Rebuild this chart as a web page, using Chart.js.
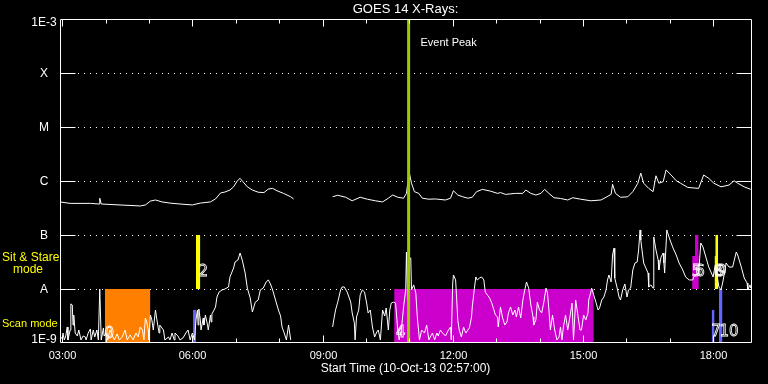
<!DOCTYPE html>
<html><head><meta charset="utf-8">
<script src="https://cdn.jsdelivr.net/npm/chart.js@4.4.1/dist/chart.umd.min.js"></script>
<style>html,body{margin:0;padding:0;background:#000;overflow:hidden}</style>
</head><body><canvas id="c" width="768" height="384"></canvas>
<script>
// Time axis: minutes elapsed since start time 02:57 (10-Oct-13)
const START_MINUTE = 177;          // 02:57 in minutes of day
const END_ELAPSED = 955.4;         // ~18:52
const xTickHours = [3,4,5,6,7,8,9,10,11,12,13,14,15,16,17,18];
const xLabelEvery = 3;

// Y axis: GOES flux classes (W/m^2)
const yTickValues = [1e-9, 1e-8, 1e-7, 1e-6, 1e-5, 1e-4, 1e-3];
const yTickLabels = ['1E-9', 'A', 'B', 'C', 'M', 'X', '1E-3'];

// Long channel (1-8 A): [elapsed minutes, flux]
const longSeg1 = [[0,4.1e-7],[14,3.85e-7],[42,3.85e-7],[54,3.75e-7],[55,4.8e-7],[57,3.75e-7],[83,3.6e-7],[111,3.45e-7],[118,3.6e-7],[125,4.25e-7],
[132,4.45e-7],[141,4.1e-7],[152,3.9e-7],[166,3.75e-7],[183,3.6e-7],[194,3.9e-7],[208,4.1e-7],[215,4.65e-7],[222,6.0e-7],[228,6.25e-7],
[235,6.8e-7],[240,7.8e-7],[245,1.0e-6],[249,1.12e-6],[253,9.7e-7],[259,7.8e-7],[266,6.8e-7],[274,6.2e-7],[282,6.1e-7],[288,7.1e-7],
[294,7.3e-7],[300,6.6e-7],[309,5.9e-7],[319,5.1e-7],[323,4.65e-7]];
const longSeg2 = [[377,5.1e-7],[384,5.45e-7],[395,5.0e-7],[404,4.3e-7],[415,5.0e-7],[425,4.6e-7],[436,4.3e-7],[446,4.1e-7],[454,4.8e-7],[460,5.5e-7],
[467,5.0e-7],[475,4.8e-7],[479,5.9e-7],[480.5,8.4e-7],[483,1.41e-6],[486,9.1e-7],[490,6.35e-7],[496,5.9e-7],[501,4.8e-7],[510,4.6e-7],
[519,4.65e-7],[533,4.45e-7],[540,4.8e-7],[544,6.6e-7],[550,5.5e-7],[557,5.1e-7],[564,4.8e-7],[570,5.0e-7],[576,6.35e-7],[584,7.0e-7],
[595,6.5e-7],[605,5.9e-7],[609,6.1e-7],[616,5.65e-7],[630,5.9e-7],[640,5.9e-7],[644,6.8e-7],[651,5.9e-7],[658,5.5e-7],[665,5.9e-7],
[670,7.0e-7],[676,5.9e-7],[683,4.9e-7],[692,4.75e-7],[702,4.45e-7],[709,4.9e-7],[720,4.6e-7],[734,4.3e-7],[748,4.45e-7],[755,5.0e-7],
[762,5.65e-7],[764,8.7e-7],[768,5.9e-7],[775,5.0e-7],[785,5.1e-7],[792,6.35e-7],[799,9.1e-7],[803,1.4e-6],[807,9.1e-7],[814,7.3e-7],
[820,6.35e-7],[824,1.25e-6],[828,9.1e-7],[834,9.7e-7],[838,1.6e-6],[845,1.29e-6],[852,1.01e-6],[858,9.1e-7],[868,7.6e-7],[883,7.3e-7],
[890,1.29e-6],[897,1.12e-6],[904,9.1e-7],[914,7.8e-7],[925,8.4e-7],[932,1.01e-6],[937,9.1e-7],[946,7.8e-7],[955,7.0e-7]];

// Short channel (0.5-4 A): [elapsed minutes, flux]
const shortSeg1 = [[0,1.14e-9],[3,1.29e-9],[4,1.53e-9],[6,1.14e-9],[8,1.35e-9],[10,1.98e-9],[11,1.14e-9],[14,1.74e-9],[15,5.3e-9],[17,5.06e-9],
[18,2.15e-9],[19,3.3e-9],[21,1.53e-9],[24,1.35e-9],[26,1.74e-9],[29,1.14e-9],[32,1.35e-9],[35,1.29e-9],[36,1.14e-9],[39,1.53e-9],
[42,1.82e-9],[43,1.14e-9],[46,1.74e-9],[48,1.29e-9],[51,1.74e-9],[53,1.14e-9],[55,1.0e-8],[57,1.14e-9],[60,1.9e-9],[61,1.35e-9],
[64,1.53e-9],[66,1.14e-9],[69,1.74e-9],[72,1.41e-9],[75,1.14e-9],[79,1.47e-9],[82,1.14e-9],[86,1.29e-9],[90,1.74e-9],[93,1.14e-9],
[97,1.41e-9],[101,1.14e-9],[105,1.53e-9],[108,1.29e-9],[111,1.98e-9],[114,1.74e-9],[116,1.14e-9],[118,2.9e-9],[120,2.45e-9],[122,1.74e-9],
[123,1.14e-9],[125,3.3e-9],[127,2.67e-9],[129,1.74e-9],[132,4.08e-9],[134,2.67e-9],[137,1.53e-9],[138,2.15e-9],[143,1.74e-9],[145,1.14e-9],
[150,1.29e-9],[152,1.14e-9],[155,1.53e-9],[158,1.14e-9],[159,1.53e-9],[163,1.35e-9],[166,1.14e-9],[170,1.24e-9],[174,1.53e-9],[177,1.74e-9],
[180,1.14e-9],[183,1.53e-9],[186,1.14e-9],[188,2.67e-9],[190,4.08e-9],[191,2.15e-9],[192,4.26e-9],[194,2.67e-9],[195,1.74e-9],[198,2.9e-9],
[199,2.15e-9],[201,3.3e-9],[204,2.15e-9],[205,1.74e-9],[208,3.3e-9],[209,2.45e-9],[210,3.44e-9],[213,4.08e-9],[215,4.64e-9],[217,7.1e-9],
[220,8.8e-9],[224,9.6e-9],[228,1.0e-8],[233,1.09e-8],[235,1.67e-8],[240,2.45e-8],[242,3.16e-8],[246,3.44e-8],[249,4.64e-8],[252,3.44e-8],
[256,1.98e-8],[259,1.04e-8],[263,6.8e-9],[266,3.75e-9],[270,5.7e-9],[274,6.25e-9],[277,9.6e-9],[281,1.04e-8],[285,1.35e-8],[288,1.47e-8],
[291,1.24e-8],[294,9.6e-9],[298,6.25e-9],[302,4.08e-9],[305,3.16e-9],[307,1.98e-9],[310,1.53e-9],[313,1.14e-9],[316,2.15e-9],[317,1.74e-9],[319,1.14e-9]];
const shortSeg2 = [[377,1.98e-9],[378,2.45e-9],[381,4.08e-9],[384,5.7e-9],[388,9.6e-9],[390,1.09e-8],[393,1.09e-8],[397,8.8e-9],[402,5.7e-9],[404,3.6e-9],
[407,2.35e-9],[408,1.14e-9],[410,3.03e-9],[413,4.08e-9],[415,7.7e-9],[418,9.6e-9],[421,8.8e-9],[424,5.5e-9],[426,3.6e-9],[429,4.08e-9],
[432,1.98e-9],[435,1.29e-9],[438,1.6e-9],[440,1.74e-9],[443,1.14e-9],[446,4.08e-9],[449,3.16e-9],[451,4.45e-9],[454,1.74e-9],[456,4.08e-9],
[458,5.5e-9],[461,5.7e-9],[464,5.5e-9],[467,1.74e-9],[469,1.14e-9],[472,1.74e-9],[475,4.64e-9],[478,9.6e-9],[479,4.84e-8],[480.5,6.25e-9],
[482,3.75e-8],[485,3.75e-8],[486,9.6e-9],[489,1.19e-8],[492,8.4e-9],[494,3.03e-9],[497,1.14e-9],[500,1.74e-9],[504,1.53e-9],[507,2.15e-9],
[510,1.14e-9],[512,1.29e-9],[515,1.53e-9],[518,1.14e-9],[521,1.53e-9],[523,1.35e-9],[526,1.74e-9],[529,1.53e-9],[533,1.35e-9],[537,1.74e-9],
[540,1.98e-9],[541,1.14e-9],[543,1.29e-8],[544,1.82e-8],[547,1.47e-8],[548,8.4e-9],[550,2.67e-9],[552,1.74e-9],[555,1.29e-9],[558,1.98e-9],
[561,1.53e-9],[564,1.74e-9],[566,1.9e-9],[569,3.03e-9],[570,4.64e-9],[573,1.04e-8],[575,1.67e-8],[577,1.47e-8],[580,1.6e-8],[583,1.67e-8],
[586,1.47e-8],[588,8.8e-9],[591,7.7e-9],[594,6.8e-9],[597,5.5e-9],[600,4.08e-9],[602,3.3e-9],[605,3.03e-9],[606,1.98e-9],[609,4.64e-9],
[612,2.9e-9],[615,2.15e-9],[618,2.45e-9],[620,3.6e-9],[623,4.64e-9],[626,3.3e-9],[629,4.08e-9],[631,3.03e-9],[634,4.64e-9],[637,2.9e-9],
[640,6.25e-9],[642,8.8e-9],[645,1.35e-8],[648,1.04e-8],[651,5.06e-9],[654,3.03e-9],[655,2.15e-9],[658,2.67e-9],[660,5.7e-9],[663,4.08e-9],
[666,3.6e-9],[669,5.7e-9],[672,1.04e-8],[674,8.4e-9],[676,4.08e-9],[678,1.74e-9],[681,3.3e-9],[684,1.74e-9],[687,1.14e-9],[690,1.29e-9],
[692,1.98e-9],[694,1.14e-9],[696,1.98e-9],[699,3.3e-9],[702,1.74e-9],[705,3.03e-9],[708,5.5e-9],[710,1.14e-9],[713,6.25e-9],[716,3.3e-9],
[719,1.74e-9],[721,1.74e-9],[724,3.3e-9],[727,2.67e-9],[730,3.6e-9],[731,6.25e-9],[734,8.8e-9],[735,1.04e-8],[738,7.7e-9],[741,5.7e-9],
[744,4.08e-9],[746,4.45e-9],[749,6.25e-9],[752,7.1e-9],[755,9.6e-9],[757,1.47e-8],[759,1.82e-8],[762,1.35e-8],[764,4.26e-8],[766,5.7e-8],
[767,1.6e-8],[770,1.09e-8],[773,7.1e-9],[775,6.25e-9],[778,9.6e-9],[781,1.24e-8],[784,7.1e-9],[786,9.6e-9],[789,1.04e-8],[792,2.25e-8],
[795,3.03e-8],[798,3.16e-8],[800,5.3e-8],[802,1.24e-7],[803,8.1e-8],[807,3.03e-8],[813,1.98e-8],[814,1.09e-8],[817,1.19e-8],[820,1.04e-8],
[821,9.2e-8],[824,5.3e-8],[827,3.44e-8],[828,2.25e-8],[831,3.9e-8],[834,4.64e-8],[835,3.03e-8],[836,1.98e-8],[839,1.24e-7],[842,9.2e-8],
[847,6.0e-8],[852,4.26e-8],[856,3.03e-8],[861,2.25e-8],[865,1.67e-8],[870,1.47e-8],[875,1.47e-8],[876,1.67e-8],[883,1.98e-8],[886,7.1e-8],
[889,6.0e-8],[893,3.9e-8],[897,2.55e-8],[903,1.67e-8],[906,2.78e-8],[908,1.98e-8],[911,1.09e-8],[914,9.6e-9],[917,1.47e-8],[921,3.03e-8],
[925,2.55e-8],[930,2.55e-8],[935,4.84e-8],[937,4.26e-8],[942,2.55e-8],[946,1.6e-8],[950,1.29e-8],[951,9.6e-9],[954,1.19e-8],[955,1.04e-8]];
const gapAt = 350;

// Observation / event boxes
const boxStart = [62, 184, 188, 462, 874, 878, 901, 905, 906, 911];
const boxEnd   = [125, 188, 194, 738, 883, 883, 905, 907, 910, 916];
const boxTop   = [1e-8, 4.08e-9, 1e-7, 1e-8, 4.08e-8, 1e-7, 4.08e-9, 4.08e-8, 1e-7, 1e-8];
const boxBase  = [1e-9, 1e-9, 1e-8, 1e-9, 1e-8, 1e-8, 1e-9, 1e-8, 1e-8, 1e-9];
const boxKind  = ['orange','blue','yellow','magenta','magenta','magenta','blue','yellow','yellow','blue'];

// Event number labels
const labelText = ['0', '2', '4', '5', '6', '7', '8', '9', '10'];
const labelTime = [68, 198, 471, 880, 885, 907, 911, 915, 925];
const labelFlux = [1.47e-9, 2.07e-8, 1.53e-9, 2.07e-8, 2.07e-8, 1.6e-9, 2.07e-8, 2.07e-8, 1.6e-9];

const eventPeakTime = 482;
const eventPeakText = 'Event Peak';

const kindColor = {orange:'#ff8000', blue:'#6464ff', yellow:'#ffff00', magenta:'#cc00cc'};
const pts = arr => arr.map(p => ({x:p[0], y:p[1]}));
const FONT = '"Liberation Sans", "DejaVu Sans", sans-serif';

const datasets = [];
datasets.push({ data:[{x:eventPeakTime,y:1e-9},{x:eventPeakTime,y:1e-3}], borderColor:'#99cc00', borderWidth:3, pointRadius:0, fill:false, order:0 });
datasets.push({ data:[...pts(longSeg1), {x:gapAt,y:null}, ...pts(longSeg2)], borderColor:'#ffffff', borderWidth:1, pointRadius:0, fill:false, spanGaps:false, order:1 });
datasets.push({ data:[...pts(shortSeg1), {x:gapAt,y:null}, ...pts(shortSeg2)], borderColor:'#ffffff', borderWidth:1, pointRadius:0, fill:false, spanGaps:false, order:1 });
boxStart.forEach((s,i) => {
  datasets.push({ data:[{x:s,y:boxTop[i]},{x:boxEnd[i],y:boxTop[i]}], borderWidth:0, borderColor:'rgba(0,0,0,0)',
    backgroundColor:kindColor[boxKind[i]], pointRadius:0, fill:{value:boxBase[i]}, order:2 });
});

const decor = {
  id:'decor',
  beforeDraw(chart){ const c=chart.ctx; c.save(); c.fillStyle='#000'; c.fillRect(0,0,chart.width,chart.height); c.restore(); },
  beforeDatasetsDraw(chart){
    const c=chart.ctx, a=chart.chartArea, y=chart.scales.y;
    c.save(); c.strokeStyle='#fff'; c.lineWidth=1;
    yTickValues.forEach((v,i)=>{
      if(i===0 || i===yTickValues.length-1) return;
      const py=Math.round(y.getPixelForValue(v))+0.5;
      c.setLineDash([1,5]); c.beginPath(); c.moveTo(a.left+18,py); c.lineTo(a.right-15,py); c.stroke();
    });
    c.restore();
  },
  afterDraw(chart){
    const c=chart.ctx, a=chart.chartArea, x=chart.scales.x, y=chart.scales.y;
    c.save(); c.strokeStyle='#fff'; c.lineWidth=1; c.setLineDash([]);
    const L=Math.round(a.left)+0.5, R=Math.round(a.right)+0.5, T=Math.round(a.top)+0.5, B=Math.round(a.bottom)-0.5;
    c.beginPath(); c.moveTo(L,T); c.lineTo(R,T); c.lineTo(R,B); c.lineTo(L,B); c.closePath(); c.stroke();
    // y major ticks (solid stubs)
    yTickValues.forEach((v,i)=>{
      if(i===0 || i===yTickValues.length-1) return;
      const py=Math.round(y.getPixelForValue(v))+0.5;
      c.beginPath(); c.moveTo(L,py); c.lineTo(L+15,py); c.moveTo(R-15,py); c.lineTo(R,py); c.stroke();
    });
    // x ticks top & bottom
    c.fillStyle='#fff'; c.font='11px '+FONT; c.textAlign='center'; c.textBaseline='middle';
    xTickHours.forEach(h=>{
      const px=Math.round(x.getPixelForValue(h*60-START_MINUTE))+0.5;
      const len = (h % xLabelEvery===0) ? 7 : 4;
      c.beginPath(); c.moveTo(px,T); c.lineTo(px,T+len); c.moveTo(px,B); c.lineTo(px,B-len); c.stroke();
      if(h % xLabelEvery===0) c.fillText(String(h).padStart(2,'0')+':00', px, 356);
    });
    // y labels
    c.font='12px '+FONT;
    yTickValues.forEach((v,i)=>{
      let py=y.getPixelForValue(v)+1;
      py=Math.max(a.top+4, Math.min(a.bottom-3.5, py));
      c.fillText(yTickLabels[i], 44, py);
    });
    // titles
    c.font='13px '+FONT; c.fillText('GOES 14 X-Rays:', (a.left+a.right)/2, 9);
    c.font='12px '+FONT; c.fillText('Start Time (10-Oct-13 02:57:00)', (a.left+a.right)/2, 369);
    c.font='11px '+FONT; c.fillText(eventPeakText, x.getPixelForValue(eventPeakTime)+40, 43);
    // mode labels
    c.fillStyle='#ffff00'; c.textAlign='left';
    c.font='12px '+FONT;
    c.fillText('Sit & Stare', 2, 258);
    c.fillText('mode', 13, 270);
    c.font='11px '+FONT;
    c.fillText('Scan mode', 2, 324);
    // event numbers (outlined, thin)
    c.strokeStyle='#fff'; c.lineWidth=0.8; c.font='15px "DejaVu Sans", sans-serif'; c.textAlign='center';
    labelText.forEach((t,i)=>{ c.strokeText(t, x.getPixelForValue(labelTime[i]), y.getPixelForValue(labelFlux[i])); });
    c.restore();
  }
};

new Chart(document.getElementById('c'), {
  type:'line',
  data:{ datasets },
  options:{
    responsive:false, animation:false, devicePixelRatio:1,
    layout:{ padding:{ left:60, right:17, top:19, bottom:41 } },
    plugins:{ legend:{display:false}, tooltip:{enabled:false}, title:{display:false} },
    elements:{ line:{ tension:0 } },
    scales:{
      x:{ type:'linear', min:0, max:END_ELAPSED, display:false },
      y:{ type:'logarithmic', min:1e-9, max:1e-3, display:false }
    }
  },
  plugins:[decor]
});
</script>
</body></html>
